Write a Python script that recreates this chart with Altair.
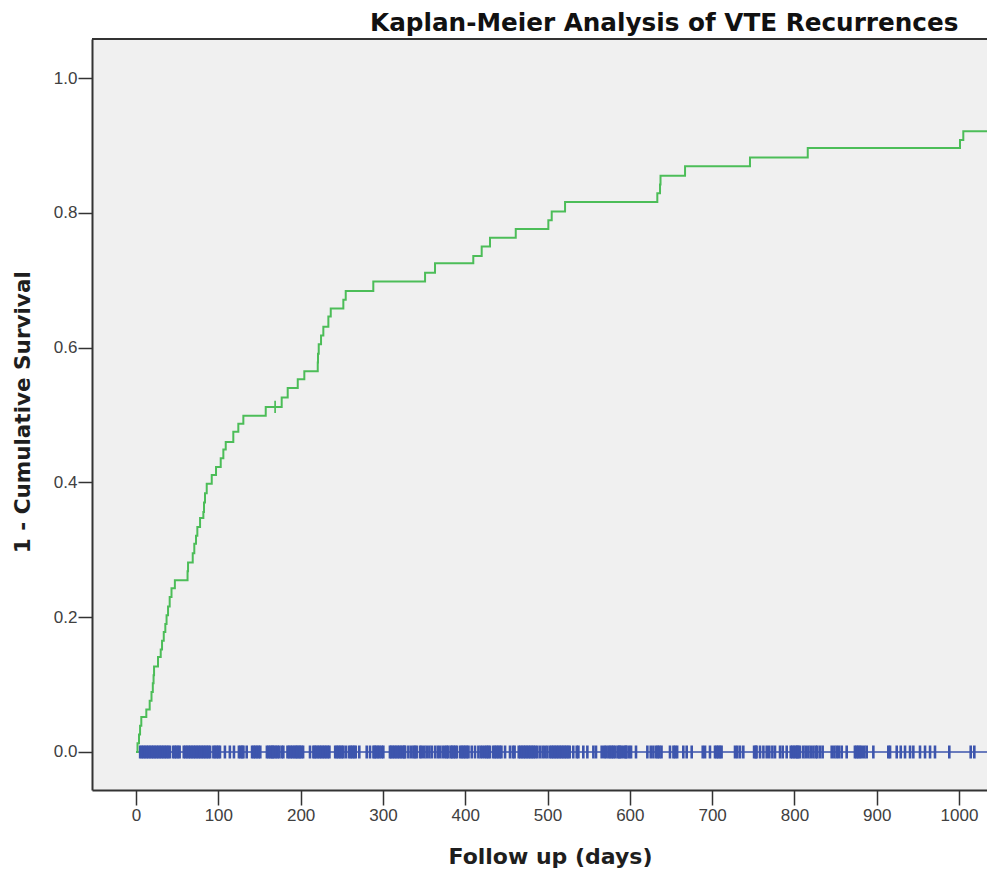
import altair as alt
import pandas as pd

# Kaplan-Meier step curve (1 - cumulative survival)
KM_DAYS = [0, 1.8, 3.6, 4.9, 6.4, 12.5, 16.6, 18.8, 20.4, 21.3,
           21.9, 26.7, 30.0, 31.6, 33.7, 35.6, 37.1, 38.9, 40.9, 43.1,
           47.2, 62.6, 63.2, 68.9, 70.8, 72.9, 74.5, 77.8, 81.8, 82.6,
           83.8, 85.9, 92.0, 97.2, 102.9, 106.1, 109.0, 118.2, 124.3, 130.4,
           157.6, 177.0, 184.3, 196.5, 204.5, 220.8, 221.1, 222.0, 224.8, 227.6,
           233.7, 236.6, 251.9, 254.8, 288.3, 351.2, 363.3, 409.8, 420.0, 430.1,
           461.4, 501.0, 505.1, 521.3, 633.4, 636.7, 637.3, 667.1, 746.0, 816.2,
           1001.2, 1005.2, 1041.7, 1042]
KM_VALUES = [0, 0.013, 0.026, 0.039, 0.052, 0.063, 0.076, 0.089, 0.102, 0.114,
             0.127, 0.141, 0.152, 0.165, 0.178, 0.190, 0.203, 0.216, 0.230, 0.243,
             0.255, 0.268, 0.281, 0.295, 0.309, 0.321, 0.334, 0.347, 0.356, 0.370,
             0.384, 0.398, 0.411, 0.423, 0.436, 0.449, 0.460, 0.475, 0.487, 0.499,
             0.512, 0.526, 0.540, 0.553, 0.565, 0.578, 0.591, 0.605, 0.618, 0.631,
             0.646, 0.658, 0.671, 0.684, 0.698, 0.711, 0.725, 0.736, 0.750, 0.763,
             0.776, 0.789, 0.802, 0.816, 0.829, 0.842, 0.855, 0.869, 0.882, 0.896,
             0.908, 0.921, 0.935, 0.935]

# censored observation on the KM curve
KM_CENSOR_DAYS = [169.0]
KM_CENSOR_VALUES = [0.512]

# second group: flat line at 0 with censored observations
BASE_DAYS = [0, 1042]
BASE_VALUES = [0, 0]
CENSOR_DAYS = [5, 7, 9, 11, 13, 15, 17, 19, 21, 23, 25, 27, 29, 31, 33, 35, 37, 39, 41,
               45, 47, 49, 51, 53, 58, 60, 62, 64, 66, 68, 70, 72, 74, 76, 78, 80, 82,
               84, 86, 88, 90, 94, 96, 98, 100, 102, 108, 114, 119, 125, 127, 129, 130.5,
               134.5, 141, 143, 145, 147, 149, 151, 159, 161, 163, 165, 166, 168, 170, 172, 174,
               177, 179, 184, 186, 188, 190, 192, 194, 195.5, 197.5, 199, 201, 203, 211.4,
               215.5, 217, 219, 221, 223, 225, 227, 229, 231, 233, 235, 242, 244, 246, 248, 250, 252,
               255.2, 259, 261, 263, 265, 267, 271.3, 280.3, 284.3, 288.5, 290, 292, 294, 296, 298.5,
               300.5, 308.5, 310, 312, 314, 316, 318, 320, 322, 324, 326, 327, 330.9, 334.1,
               337, 339, 341, 345.1, 347.1, 350.3, 353.2, 356.4, 359.3, 363.3, 366.6, 369.4, 372.6,
               375.5, 377.5, 379.5, 382.5, 384, 386, 388, 390, 394, 396, 398, 400, 402, 404,
               407.9, 411.9, 416, 418.8, 421.3, 424, 426, 428, 430, 434, 436, 438, 440, 442, 444,
               448.4, 454.4, 458, 460, 465, 467, 469, 471, 473, 475, 477, 479, 481, 483, 485,
               487.6, 490.9, 494.1, 497, 499.8, 503, 505, 507, 509, 511, 513, 515, 517, 519, 521,
               523, 525, 527, 531.3, 535.5, 537.5, 543.5, 548.4, 555.7, 558.9, 565.8, 569, 571,
               573.9, 576, 578, 580, 582, 585, 587, 588, 590.2, 593, 595, 596, 599, 601.5, 607.5,
               621.3, 625.4, 628.6, 632, 634, 636, 638.5, 648.8, 653, 655, 657.5, 665, 669.1,
               675.2, 688.6, 691.4, 697.4, 703.5, 705.5, 707.5, 709.5, 711.5, 727.8, 730.6, 733.9,
               737.9, 751, 753, 754, 758.2, 762.3, 766.3, 769.5, 773.2, 776.4, 782.5, 785.8, 790.6,
               795.5, 797.5, 799.5, 801.5, 803.5, 804.5, 806.8, 810.8, 813.7, 816.9, 819.8, 823,
               825.9, 827.8, 831.1, 834.3, 845.3, 848.5, 851.4, 854.2, 857.5, 863.5, 873.5, 875.5,
               877.5, 879.5, 881.8, 884.9, 887.8, 895.9, 914.1, 916.2, 924.3, 929.2, 934.4, 940.5,
               944.5, 952.6, 958.7, 964.8, 970.8, 988.2, 1014.2, 1018.6, 1041]

X_TICKS = [0, 100, 200, 300, 400, 500, 600, 700, 800, 900, 1000]
Y_TICKS = [0.0, 0.2, 0.4, 0.6, 0.8, 1.0]

W, H = 895, 751
GREEN = "#4cbd58"
BLUE = "#3d55ad"
DARK = "#333333"

km_df = pd.DataFrame({"day": KM_DAYS, "value": KM_VALUES})
kmc_df = pd.DataFrame({"day": KM_CENSOR_DAYS, "value": KM_CENSOR_VALUES})
base_df = pd.DataFrame({"day": BASE_DAYS, "value": BASE_VALUES})
cen_df = pd.DataFrame({"day": CENSOR_DAYS, "value": [0.0] * len(CENSOR_DAYS)})

x_scale = alt.Scale(domain=[-53.5, 1034], nice=False, zero=False)
y_scale = alt.Scale(domain=[-0.0564, 1.0579], nice=False, zero=False)

x_axis = alt.Axis(values=X_TICKS, format="d", title="Follow up (days)", grid=False,
                  domain=True, domainColor=DARK, domainWidth=2,
                  tickColor=DARK, tickWidth=1.5, tickSize=15,
                  labelFont="Liberation Sans", labelFontSize=17, labelColor="#404040",
                  labelPadding=2, labelFlush=False, labelOverlap=False,
                  titleFont="DejaVu Sans", titleFontWeight="bold", titleFontSize=22,
                  titleColor="#1e1e1e", titleX=458, titleY=73, titleBaseline="alphabetic")
y_axis = alt.Axis(values=Y_TICKS, format=".1f", title="1 - Cumulative Survival", grid=False,
                  domain=True, domainColor=DARK, domainWidth=2,
                  tickColor=DARK, tickWidth=1.5, tickSize=14,
                  labelFont="Liberation Sans", labelFontSize=17, labelColor="#404040",
                  labelPadding=1, labelFlush=False, labelOverlap=False,
                  titleFont="DejaVu Sans", titleFontWeight="bold", titleFontSize=21.5,
                  titleColor="#1e1e1e", titleX=-62.5, titleY=372.7, titleBaseline="alphabetic")

X = alt.X("day:Q", scale=x_scale, axis=x_axis)
Y = alt.Y("value:Q", scale=y_scale, axis=y_axis)

base_line = alt.Chart(base_df).mark_line(color=BLUE, strokeWidth=1.5, clip=True).encode(x=X, y=Y)
cen_ticks = alt.Chart(cen_df).mark_tick(color=BLUE, orient="vertical", size=13, thickness=2.6,
                                        opacity=1, clip=True).encode(x=X, y=Y)
km_line = alt.Chart(km_df).mark_line(color=GREEN, strokeWidth=2, interpolate="step-after",
                                     clip=True).encode(x=X, y=Y)
km_cen = alt.Chart(kmc_df).mark_point(shape="M-1,0H1M0,-1V1", size=150, filled=False,
                                      stroke=GREEN, strokeWidth=1.7, opacity=1).encode(x=X, y=Y)
top_border = alt.Chart(base_df).mark_rule(color=DARK, strokeWidth=2).encode(
    x=alt.value(0), x2=alt.value(W), y=alt.value(0))

chart = alt.layer(base_line, cen_ticks, km_line, km_cen, top_border).properties(
    width=W, height=H,
    title=alt.TitleParams(text="Kaplan-Meier Analysis of VTE Recurrences", anchor="start",
                          frame="group", dx=278, dy=27, offset=9, baseline="alphabetic",
                          font="DejaVu Sans", fontSize=24.7, fontWeight="bold", color="#111111"),
    autosize=alt.AutoSizeParams(type="none"),
    padding={"left": 84, "top": 31, "right": 0, "bottom": 79},
    background="white",
).configure_view(fill="#f0f0f0", stroke="transparent", strokeWidth=0)

chart.save("out.html", embed_options={"renderer": "svg", "actions": False})
